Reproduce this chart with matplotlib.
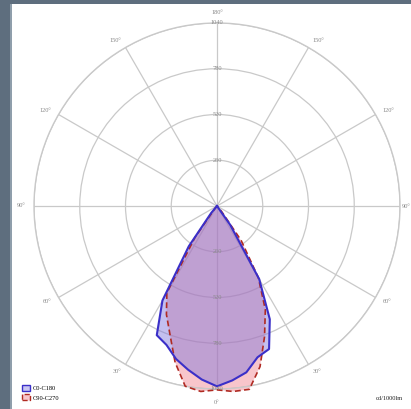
import numpy as np
import matplotlib.pyplot as plt
from matplotlib.patches import Patch, Rectangle

# gamma angles (deg) and luminous intensity (cd/1000lm)
gamma_deg = [0, 5, 10, 15, 20, 25, 30, 35, 40, 45, 50, 60, 70, 80, 90]
c0_vals   = [1025, 995, 960, 890, 865, 710, 480, 130, 0, 0, 0, 0, 0, 0, 0]
c180_vals = [1025, 990, 945, 900, 840, 810, 620, 280, 50, 0, 0, 0, 0, 0, 0]
c90_vals  = [1045, 1058, 1058, 945, 790, 650, 470, 240, 40, 0, 0, 0, 0, 0, 0]
c270_vals = [1045, 1058, 1040, 920, 780, 680, 570, 220, 20, 0, 0, 0, 0, 0, 0]

ring_values = [260, 520, 780, 1040]
angle_ticks = [0, 30, 60, 90, 120, 150, 180]
series_labels = ["C0-C180", "C90-C270"]
unit_label = "cd/1000lm"

W, H = 411, 409
fig = plt.figure(figsize=(W / 100, H / 100), dpi=100)
fig.patch.set_facecolor("white")

# dark frame on left and top
fig.add_artist(Rectangle((0, 0), 11 / W, 1, transform=fig.transFigure,
                         facecolor="#5e6e7e", edgecolor="none", zorder=0))
fig.add_artist(Rectangle((10 / W, 0), 1.5 / W, 1, transform=fig.transFigure,
                         facecolor="#8f9eab", edgecolor="none", zorder=0))
fig.add_artist(Rectangle((0, 1 - 4 / H), 1, 4 / H, transform=fig.transFigure,
                         facecolor="#5e6e7e", edgecolor="none", zorder=0))

cx, cy, R = 217, 206, 183
ax = fig.add_axes([(cx - R) / W, (H - cy - R) / H, 2 * R / W, 2 * R / H],
                  projection="polar")
ax.set_theta_zero_location("S")
ax.set_theta_direction(1)
ax.set_ylim(0, 1040)
ax.set_facecolor("none")

grid_col = "#c9c9c9"
ax.set_rticks(ring_values)
ax.set_thetagrids(np.arange(0, 360, 30), labels=[""] * 12)
ax.set_yticklabels([])
ax.grid(True, color=grid_col, lw=0.9)
ax.spines["polar"].set_color(grid_col)
ax.spines["polar"].set_linewidth(1.0)
ax.tick_params(length=0)


def closed(left, right):
    g = np.deg2rad(np.array(gamma_deg, dtype=float))
    th = np.concatenate([-g[::-1], g[1:]])
    r = np.concatenate([np.array(left)[::-1], np.array(right)[1:]])
    return th, r


th_r, r_r = closed(c270_vals, c90_vals)
th_b, r_b = closed(c180_vals, c0_vals)

ax.fill(th_r, r_r, facecolor="#f07f8c", alpha=0.45, edgecolor="none",
        clip_on=False, zorder=2)
ax.fill(th_b, r_b, facecolor="#7b73dc", alpha=0.45, edgecolor="none",
        clip_on=False, zorder=3)
ax.plot(th_r, r_r, color="#b02a22", lw=1.2, ls=(0, (3.5, 2)),
        clip_on=False, zorder=4)
ax.plot(th_b, r_b, color="#3a2fc8", lw=1.5, clip_on=False, zorder=5)

lab_font = dict(family=["Liberation Serif", "DejaVu Serif"], fontsize=4.6,
                color="#8a8a8a")

# ring labels along the vertical axis
for rv in ring_values:
    for t in (0, np.pi):
        ax.text(t, rv, str(rv), ha="center", va="center", zorder=6,
                clip_on=False, **lab_font)

# angle labels
for a in angle_ticks:
    for sgn in (1, -1):
        if a in (0, 180) and sgn == -1:
            continue
        th = np.deg2rad(a) * sgn
        if a == 0:
            ax.text(th, 1040 * 1.075, "0°", ha="center", va="center",
                    clip_on=False, **lab_font)
            continue
        if a == 180:
            ax.text(th, 1040 * 1.06, "180°", ha="center", va="center",
                    clip_on=False, **lab_font)
            continue
        ha = "left" if sgn == 1 else "right"
        rr = 1040 * 1.045
        if a == 90 and sgn == 1:
            rr = 1040 * 1.012
        ax.text(th, rr, f"{a}°", ha=ha, va="center", clip_on=False,
                **lab_font)

# legend
handles = [
    Patch(facecolor="#c9c5f2", edgecolor="#3a2fc8", lw=1.0),
    Patch(facecolor="#f8c6cc", edgecolor="#b02a22", lw=1.0, ls="--"),
]
fig.legend(handles, series_labels, loc="lower left",
           bbox_to_anchor=(18 / W, 4 / H), frameon=False,
           prop=dict(family=["Liberation Serif", "DejaVu Serif"], size=4.6),
           handlelength=1.1, handleheight=1.1, handletextpad=0.5,
           labelspacing=0.45, borderpad=0.2)

fig.text(403 / W, 1 - 398 / H, unit_label, ha="right", va="center",
         family=["Liberation Serif", "DejaVu Serif"], fontsize=4.6,
         color="#222222")

fig.savefig("out.png", dpi=100)
